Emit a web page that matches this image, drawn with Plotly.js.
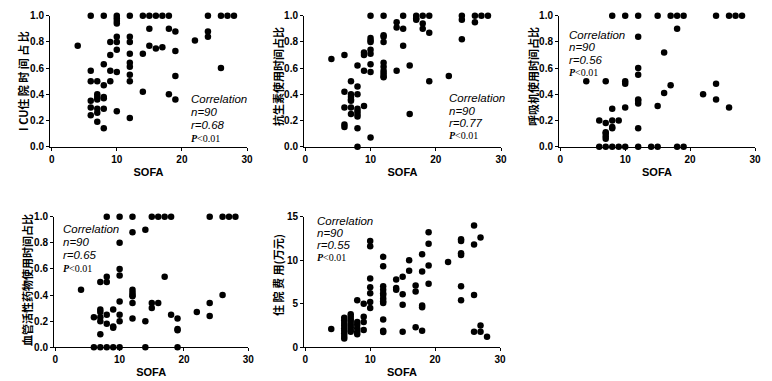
<!DOCTYPE html>
<html><head><meta charset="utf-8">
<script src="https://cdn.plot.ly/plotly-3.0.1.min.js"></script>
<style>body{margin:0;padding:0;background:#fff}#c{width:772px;height:381px}</style>
</head><body><div id="c"></div>
<script>
// Panel 1: ICU stay proportion
const sofa1 = [6,8,10,12,14,15,16,17,18,24,26,27,28, 10,10,10, 4, 10,10,9,12,12, 15,18,19, 22,24,24, 15,16,17, 10,9,12,14,19, 8,12,12,6,9,10,12,19,26, 6,7,9,8,12, 7,7,8,8,7,14,18,19, 6,6,7,8,7,10,6, 12,7,8];
const icu1  = [1,1,1,1,1,1,1,1,1,1,1,1,1, 0.98,0.96,0.94, 0.77, 0.84,0.80,0.80,0.84,0.80, 0.90,0.90,0.88, 0.81,0.88,0.84, 0.77,0.75,0.76, 0.74,0.70,0.71,0.71,0.73, 0.63,0.64,0.61,0.58,0.58,0.57,0.55,0.54,0.60, 0.50,0.50,0.50,0.47,0.50, 0.40,0.38,0.38,0.37,0.36,0.42,0.40,0.36, 0.35,0.30,0.29,0.29,0.26,0.27,0.24, 0.22,0.19,0.14];
// Panel 2: antibiotic use proportion
const sofa2 = [10,12,15,17,18,19,24,26,27,28, 17,17,24,14,18,26,18,15,14,19, 12,12,12,10,10,10,24,15, 10,10,9,9,6,4, 8,10,12,12,16,9,10,12,12,12,12,14,22,19, 7,8,6,7,8,7,7,7,6,7,8,8,9,7,8,8,16, 6,6,8,10,8];
const abx2  = [1,1,1,1,1,1,1,1,1,1, 0.98,0.97,0.97,0.95,0.94,0.95,0.90,0.90,0.91,0.87, 0.85,0.84,0.80,0.83,0.81,0.80,0.82,0.77, 0.74,0.71,0.72,0.70,0.70,0.67, 0.62,0.63,0.64,0.61,0.62,0.58,0.57,0.58,0.56,0.54,0.53,0.58,0.54,0.50, 0.50,0.46,0.42,0.40,0.40,0.38,0.36,0.35,0.30,0.30,0.29,0.27,0.31,0.25,0.25,0.23,0.25, 0.17,0.15,0.14,0.07,0.0];
// Panel 3: ventilator use proportion
const sofa3 = [8,10,12,15,17,18,19,24,26,27,28, 18,12,16,12,12, 4,7,10,10,24,17,16,22,12,12,12,24, 15,8,10,26, 6,8,9,7,8,8,12,7,7,7,7, 6,7,8,9,10,12,14,15,18,19];
const vent3 = [1,1,1,1,1,1,1,1,1,1,1, 0.90,0.84,0.72,0.60,0.55, 0.50,0.50,0.50,0.48,0.48,0.47,0.41,0.40,0.36,0.35,0.33,0.36, 0.31,0.29,0.30,0.30, 0.20,0.20,0.20,0.18,0.15,0.14,0.14,0.11,0.10,0.08,0.06, 0,0,0,0,0,0,0,0,0,0];
// Panel 4: vasoactive drug use proportion
const sofa4 = [8,10,12,15,16,17,18,24,26,27,28, 14,12,10, 10,10,17,8,8,7, 4,12,12,12,12,26, 10,12,15,15,16,24, 7,7,9,8,10,18,22,6,7,12,24,19, 7,10,14,8,9,9,19,19,7, 6,7,8,9,10,14,19];
const vaso4 = [1,1,1,1,1,1,1,1,1,1,1, 0.90,0.88,0.80, 0.60,0.55,0.54,0.54,0.50,0.50, 0.44,0.44,0.42,0.40,0.39,0.40, 0.35,0.34,0.34,0.30,0.34,0.34, 0.29,0.27,0.29,0.25,0.25,0.25,0.27,0.23,0.23,0.22,0.24,0.22, 0.20,0.20,0.20,0.18,0.16,0.15,0.14,0.13,0.10, 0,0,0,0,0,0,0];
// Panel 5: hospitalization cost (10k yuan)
const sofa5 = [26,19,24,24,27,10,10,26,19, 24,24,18,12,16,22,12,19,16,18,15, 10,14,14,14,10,10,12,12,12,12,12,12,12,17,17,19,24,26, 15,8,9,10,10,24,15,18,18, 12,9,9,9,7, 6,6,6,6,6,6,6,6,6, 7,7,7,7,7,7,7, 8,8,8,8,8, 4, 12,12,15,17,18,27,26,27,28];
const cost5 = [14.0,13.2,12.4,12.2,12.6,12.2,11.6,11.8,11.9, 10.8,10.6,10.7,10.4,10.0,9.8,9.3,9.4,8.8,8.7,8.1, 7.9,7.8,6.8,6.6,6.9,6.2,7.0,6.6,6.2,6.0,5.6,5.3,5.1,7.1,6.4,7.3,7.0,6.0, 6.1,5.4,5.0,5.2,4.5,5.4,4.9,4.8,4.6, 3.2,3.5,2.9,2.0,3.8, 3.4,3.1,2.8,2.5,2.2,1.9,1.6,1.3,1.0, 3.5,3.2,2.9,2.6,2.3,2.0,1.8, 2.9,2.6,2.2,1.8,1.5, 2.1, 1.9,1.75,1.8,2.3,1.9,2.5,1.8,1.8,1.2];

const yTitles = ['I CU住 院 时 间 占 比','抗生素使用时间占比','呼吸机使用时间占比','血管活性药物使用时间占比','住 院 费 用(万元)'];
const stats = [
  ['n=90','r=0.68'],
  ['n=90','r=0.77'],
  ['n=90','r=0.56'],
  ['n=90','r=0.65'],
  ['n=90','r=0.55']
];
const xLabel = 'SOFA';

const W = 772, H = 381;
const px = v => v / W;
const py = v => 1 - v / H;

const series = [[sofa1, icu1],[sofa2, abx2],[sofa3, vent3],[sofa4, vaso4],[sofa5, cost5]];
const data = series.map((s, i) => ({
  type: 'scatter', mode: 'markers', x: s[0], y: s[1],
  xaxis: i === 0 ? 'x' : 'x' + (i + 1), yaxis: i === 0 ? 'y' : 'y' + (i + 1),
  marker: {color: '#000', size: 6.5}, cliponaxis: false, hoverinfo: 'skip'
}));

// geometry in pixels: [xLeft, xRight(=30), yBottom, yTop, xmin]
const geo = [
  [50, 247, 146.7, 15.7, -0.26],
  [304, 501, 146.7, 15.7, -0.2],
  [559, 755, 146.7, 15.7, -0.2],
  [54, 248.3, 347.3, 216.7, -0.2],
  [304, 500, 347.3, 216.7, -0.2]
];
const yRanges = [[0,1],[0,1],[0,1],[0,1],[0,15]];
const yTicks = [[0,0.2,0.4,0.6,0.8,1.0],[0,0.2,0.4,0.6,0.8,1.0],[0,0.2,0.4,0.6,0.8,1.0],[0,0.2,0.4,0.6,0.8,1.0],[0,5,10,15]];
const tickFont = {family: 'Liberation Sans, Arial, sans-serif', size: 10, color: '#000', weight: 'bold'};

const layout = {
  width: W, height: H, margin: {l: 0, r: 0, t: 0, b: 0},
  paper_bgcolor: '#fff', plot_bgcolor: '#fff', showlegend: false,
  annotations: []
};
geo.forEach((g, i) => {
  const xk = i === 0 ? 'xaxis' : 'xaxis' + (i + 1);
  const yk = i === 0 ? 'yaxis' : 'yaxis' + (i + 1);
  const xa = i === 0 ? 'x' : 'x' + (i + 1);
  const ya = i === 0 ? 'y' : 'y' + (i + 1);
  layout[xk] = {
    domain: [px(g[0]), px(g[1])], range: [g[4], 30], anchor: ya,
    tickvals: [0,10,20,30], ticks: 'outside', ticklen: 3, tickwidth: 1, tickcolor: '#000',
    showline: true, linecolor: '#000', linewidth: 1, showgrid: false, zeroline: false,
    tickfont: tickFont,
    title: {text: xLabel, font: {family: 'Liberation Sans, Arial, sans-serif', size: 11, color: '#000', weight: 'bold'}, standoff: 4}
  };
  layout[yk] = {
    domain: [py(g[2]), py(g[3])], range: yRanges[i], anchor: xa,
    tickvals: yTicks[i], tickformat: i === 4 ? 'd' : '.1f',
    ticks: 'outside', ticklen: 3, tickwidth: 1, tickcolor: '#000',
    showline: true, linecolor: '#000', linewidth: 1, showgrid: false, zeroline: false,
    tickfont: tickFont
  };
});

const titleX = [23, 278, 533, 27, 278];
const titleY = [81, 77, 77, 280, 275];
yTitles.forEach((t, i) => {
  layout.annotations.push({
    text: t, xref: 'paper', yref: 'paper', x: px(titleX[i]), y: py(titleY[i]),
    xanchor: 'center', yanchor: 'middle', textangle: -90, showarrow: false,
    font: {family: 'Noto Sans CJK SC, sans-serif', size: 11, color: '#000', weight: 'bold'}
  });
});

// annotation positions: [left x, y of first line, line spacing]
const annPos = [[189, 99, 13], [447, 98, 12.5], [567, 35, 12.5], [61, 229, 13], [315, 221, 12.2]];
annPos.forEach((a, i) => {
  const lines = ['Correlation', stats[i][0], stats[i][1]];
  lines.forEach((l, k) => {
    layout.annotations.push({
      text: l, xref: 'paper', yref: 'paper', x: px(a[0]), y: py(a[1] + k * a[2]),
      xanchor: 'left', yanchor: 'middle', showarrow: false,
      font: {family: 'Liberation Sans, Arial, sans-serif', size: 11.5, color: '#000', style: 'italic'}
    });
  });
  layout.annotations.push({
    text: '<b><i>P</i></b><0.01', xref: 'paper', yref: 'paper', x: px(a[0]), y: py(a[1] + 3 * a[2]),
    xanchor: 'left', yanchor: 'middle', showarrow: false,
    font: {family: 'Liberation Serif, Times New Roman, serif', size: 10, color: '#000'}
  });
});

Plotly.newPlot('c', data, layout, {staticPlot: true, displayModeBar: false});
</script></body></html>
